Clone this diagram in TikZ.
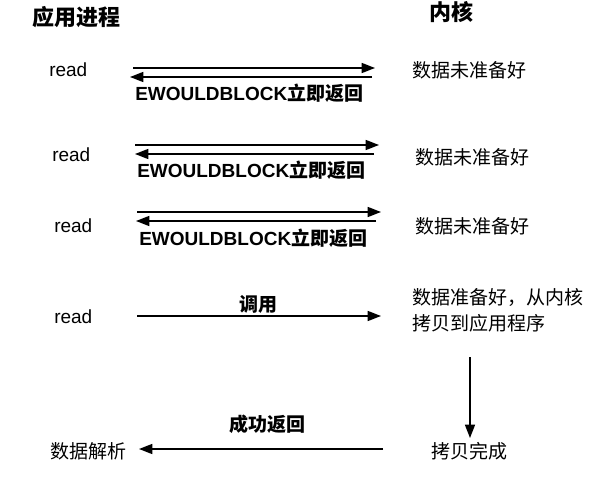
\documentclass[tikz,border=0pt]{standalone}
\usepackage{fontspec}
\setmainfont{Liberation Sans}
\newfontfamily\cjk{Noto Sans CJK SC}
\usetikzlibrary{arrows.meta}
\tikzset{
  txt/.style={inner sep=0pt, anchor=west, font=\fontsize{14.25}{17}\selectfont},
  cjktxt/.style={txt, font=\fontsize{14.25}{17}\selectfont\cjk},
  lbl/.style={txt, font=\fontsize{14.25}{17}\selectfont\bfseries},
  hdr/.style={inner sep=0pt, anchor=west, font=\fontsize{16.5}{19}\selectfont\cjk\bfseries},
  cjkbold/.style={inner sep=0pt, anchor=west, font=\fontsize{14.25}{17}\selectfont\cjk\bfseries},
  arr/.style={line width=1.15pt, -{Triangle[length=10pt, width=7.5pt]}},
}
\begin{document}
\begin{tikzpicture}[x=0.75pt, y=-0.75pt]
\useasboundingbox (0,0) rectangle (601,489);
% headers
\node[hdr] (h1) at (32,17) {应用进程};
\node[hdr] (h2) at (429,12) {内核};
% row 1
\node[txt] (r1) at (49,70) {read};
\node[cjktxt] (k1) at (412,70) {数据未准备好};
\node[lbl] (e1) at (135,93) {EWOULDBLOCK{\cjk 立即返回}};
\coordinate (a1s) at (133,68); \coordinate (a1e) at (375,68);
\coordinate (b1s) at (372,77); \coordinate (b1e) at (130,77);
\draw[arr] (a1s) -- (a1e);
\draw[arr] (b1s) -- (b1e);
% row 2
\node[txt] (r2) at (52,155) {read};
\node[cjktxt] (k2) at (415,157) {数据未准备好};
\node[lbl] (e2) at (137,170) {EWOULDBLOCK{\cjk 立即返回}};
\coordinate (a2s) at (135,145); \coordinate (a2e) at (379,145);
\coordinate (b2s) at (374,154); \coordinate (b2e) at (135,154);
\draw[arr] (a2s) -- (a2e);
\draw[arr] (b2s) -- (b2e);
% row 3
\node[txt] (r3) at (54,226) {read};
\node[cjktxt] (k3) at (415,226) {数据未准备好};
\node[lbl] (e3) at (139,238) {EWOULDBLOCK{\cjk 立即返回}};
\coordinate (a3s) at (137,212); \coordinate (a3e) at (381,212);
\coordinate (b3s) at (376,221); \coordinate (b3e) at (136,221);
\draw[arr] (a3s) -- (a3e);
\draw[arr] (b3s) -- (b3e);
% row 4
\node[txt] (r4) at (54,317) {read};
\node[cjkbold] (c4) at (239,304) {调用};
\node[cjktxt, align=left, font=\fontsize{14.25}{19.5}\selectfont\cjk] (k4) at (412,310) {数据准备好，从内核\\拷贝到应用程序};
\coordinate (a4s) at (137,316); \coordinate (a4e) at (381,316);
\draw[arr] (a4s) -- (a4e);
% vertical
\coordinate (vs) at (470,357); \coordinate (ve) at (470,438);
\draw[arr] (vs) -- (ve);
% bottom row
\node[cjktxt] (d5) at (50,451) {数据解析};
\node[cjktxt] (k5) at (431,451) {拷贝完成};
\node[cjkbold] (s5) at (229,424) {成功返回};
\coordinate (b5s) at (383,449); \coordinate (b5e) at (139,449);
\draw[arr] (b5s) -- (b5e);
\end{tikzpicture}
\end{document}
